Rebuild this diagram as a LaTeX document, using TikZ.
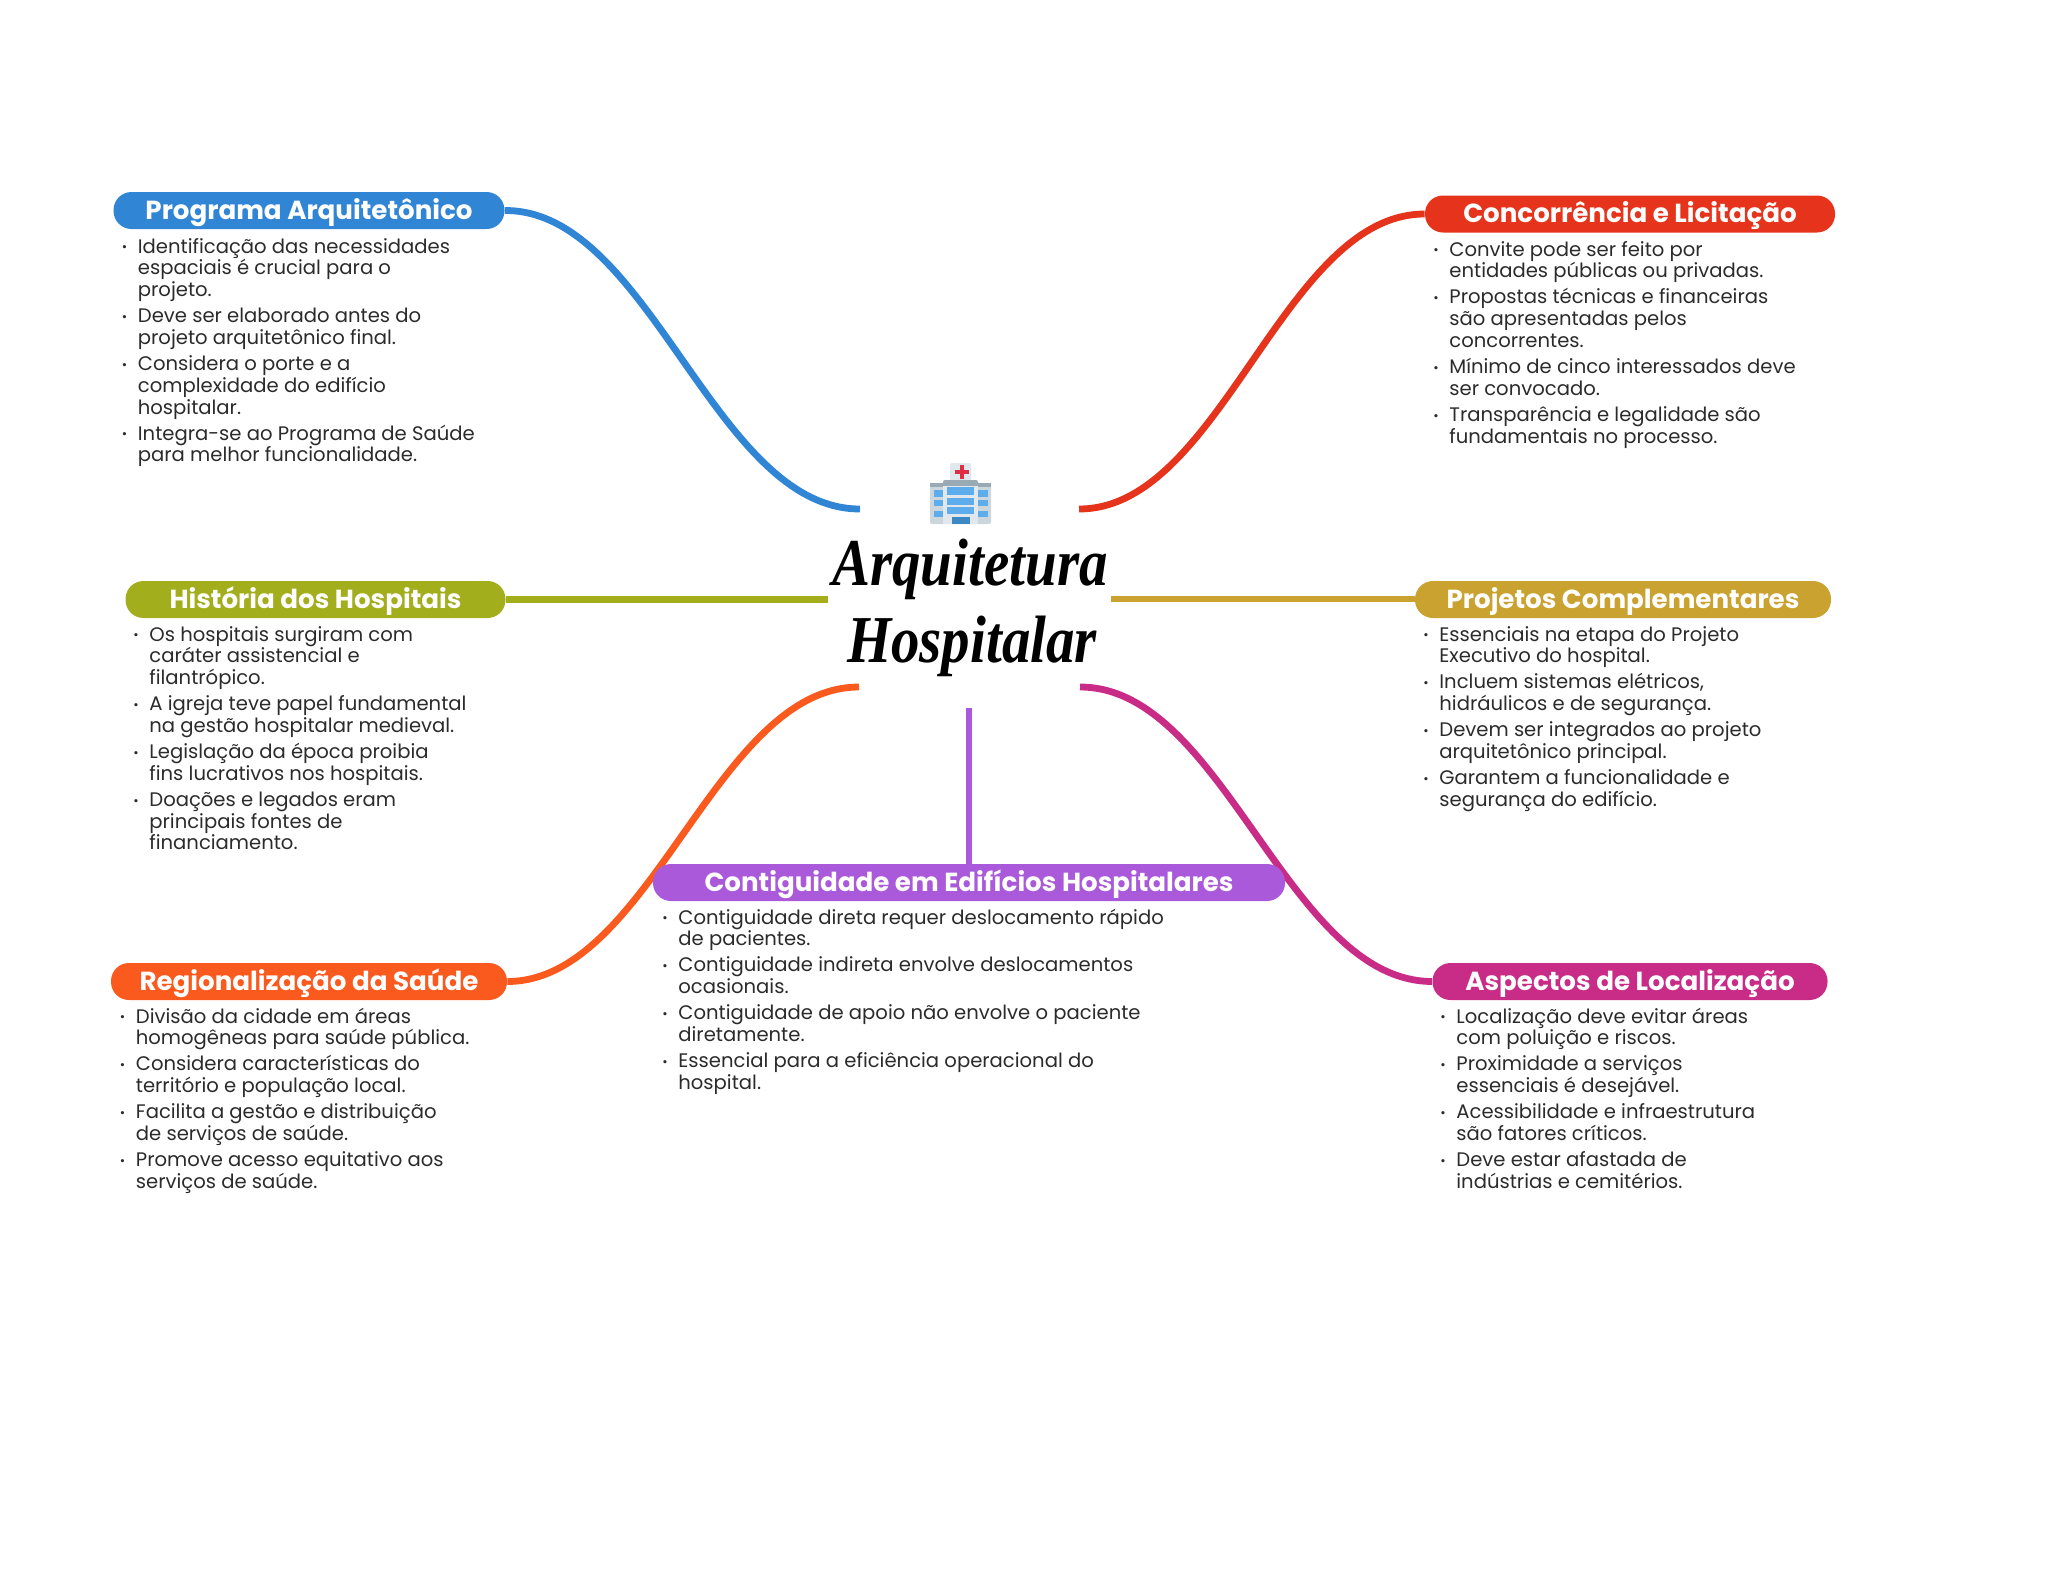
\documentclass[tikz,border=0pt]{standalone}
\usetikzlibrary{backgrounds}
\usepackage{fontspec}
\setmainfont{Poppins}
\newfontfamily\titlefont[FakeStretch=0.85]{Liberation Serif}
\definecolor{cblue}{HTML}{3185D5}
\definecolor{cred}{HTML}{E5341B}
\definecolor{colive}{HTML}{A3AE1C}
\definecolor{cgold}{HTML}{C9A22F}
\definecolor{cpurple}{HTML}{A959D9}
\definecolor{corange}{HTML}{FA5A1E}
\definecolor{cmagenta}{HTML}{C92C87}
\definecolor{ctext}{HTML}{2B2B2B}
\definecolor{icA}{HTML}{E1E8ED}
\definecolor{icB}{HTML}{CCD6DD}
\definecolor{icC}{HTML}{99AAB5}
\definecolor{icW}{HTML}{5DADEC}
\definecolor{icD}{HTML}{3B88C3}
\definecolor{icR}{HTML}{DD2E44}
\newcommand\bitem[1]{\par\hangindent=8pt\hangafter=1\noindent\makebox[8pt][l]{\raisebox{0.6pt}{\fontsize{6.5}{6.5}\selectfont •}}#1}
\newcommand\blist[1]{\parbox[t]{400pt}{\fontsize{9.8}{10.9}\selectfont\parskip=2.1pt #1}}
\tikzset{
  pill/.style={fill=#1,rounded corners=9pt,inner sep=0pt,minimum height=18.5pt,text height=12.3pt,text depth=3.5pt,text=white,font=\fontsize{13.07}{14}\selectfont\bfseries},
  body/.style={inner sep=0pt,anchor=base west,text=ctext},
  link/.style={draw=#1,line width=3.4pt},
  hubtitle/.style={inner sep=0pt,font=\titlefont\fontsize{33.5}{38}\selectfont\bfseries\itshape,text=black}
}
\begin{document}
\begin{tikzpicture}[x=0.5pt,y=-0.5pt]
\useasboundingbox (0,0) rectangle (2048,1569);
% free ends at the hub
\coordinate (hTL) at (860,509);
\coordinate (hTR) at (1079,509);
\coordinate (hL) at (828,599);
\coordinate (hR) at (1111,599);
\coordinate (hBL) at (859,687);
\coordinate (hBR) at (1080,687);
\coordinate (hB) at (969,708);
% pills
\node[pill=cblue,minimum width=195.5pt] (prog) at (309,210.5) {Programa Arquitetônico};
\node[pill=cred,minimum width=205pt] (conc) at (1630,214) {Concorrência e Licitação};
\node[pill=colive,minimum width=190pt] (hist) at (315.5,599.5) {História dos Hospitais};
\node[pill=cgold,minimum width=208pt] (proj) at (1623,599.5) {Projetos Complementares};
\node[pill=cpurple,minimum width=316pt] (cont) at (969,882.5) {Contiguidade em Edifícios Hospitalares};
\node[pill=corange,minimum width=198pt] (regi) at (309,981.5) {Regionalização da Saúde};
\node[pill=cmagenta,minimum width=197.5pt] (aspe) at (1630,981.5) {Aspectos de Localização};
% connectors
\begin{scope}[on background layer]
\draw[link=cblue] (prog.east) .. controls (650,210) and (714,509) .. (hTL);
\draw[link=cred] (conc.west) .. controls (1283,214) and (1221,509) .. (hTR);
\draw[link=colive] (hist.east) -- (hist.east -| hL);
\draw[link=cgold] (hR) -- (hR -| proj.west);
\draw[link=corange] (regi.east) .. controls (651,981) and (715,687) .. (hBL);
\draw[link=cmagenta] (aspe.west) .. controls (1287,981) and (1224,687) .. (hBR);
\draw[link=cpurple] (hB) -- (hB |- cont.north);
\end{scope}
% body lists
\node[body] (tprog) at (121.5,253) {\blist{\bitem{Identificação das necessidades\\espaciais é crucial para o\\projeto.}\bitem{Deve ser elaborado antes do\\projeto arquitetônico final.}\bitem{Considera o porte e a\\complexidade do edifício\\hospitalar.}\bitem{Integra-se ao Programa de Saúde\\para melhor funcionalidade.}}};
\node[body] (tconc) at (1433,256) {\blist{\bitem{Convite pode ser feito por\\entidades públicas ou privadas.}\bitem{Propostas técnicas e financeiras\\são apresentadas pelos\\concorrentes.}\bitem{Mínimo de cinco interessados deve\\ser convocado.}\bitem{Transparência e legalidade são\\fundamentais no processo.}}};
\node[body] (thist) at (133,641) {\blist{\bitem{Os hospitais surgiram com\\caráter assistencial e\\filantrópico.}\bitem{A igreja teve papel fundamental\\na gestão hospitalar medieval.}\bitem{Legislação da época proibia\\fins lucrativos nos hospitais.}\bitem{Doações e legados eram\\principais fontes de\\financiamento.}}};
\node[body] (tproj) at (1423,641) {\blist{\bitem{Essenciais na etapa do Projeto\\Executivo do hospital.}\bitem{Incluem sistemas elétricos,\\hidráulicos e de segurança.}\bitem{Devem ser integrados ao projeto\\arquitetônico principal.}\bitem{Garantem a funcionalidade e\\segurança do edifício.}}};
\node[body] (tcont) at (662,924) {\blist{\bitem{Contiguidade direta requer deslocamento rápido\\de pacientes.}\bitem{Contiguidade indireta envolve deslocamentos\\ocasionais.}\bitem{Contiguidade de apoio não envolve o paciente\\diretamente.}\bitem{Essencial para a eficiência operacional do\\hospital.}}};
\node[body] (tregi) at (119.5,1023) {\blist{\bitem{Divisão da cidade em áreas\\homogêneas para saúde pública.}\bitem{Considera características do\\território e população local.}\bitem{Facilita a gestão e distribuição\\de serviços de saúde.}\bitem{Promove acesso equitativo aos\\serviços de saúde.}}};
\node[body] (taspe) at (1440,1023) {\blist{\bitem{Localização deve evitar áreas\\com poluição e riscos.}\bitem{Proximidade a serviços\\essenciais é desejável.}\bitem{Acessibilidade e infraestrutura\\são fatores críticos.}\bitem{Deve estar afastada de\\indústrias e cemitérios.}}};
% title
\node[hubtitle,anchor=base] (t1) at (970,585) {Arquitetura};
\node[hubtitle,anchor=base] (t2) at (972,662) {Hospitalar};
% hospital icon
\fill[icA,rounded corners=1pt] (950,463) rectangle (971,484);
\fill[icR] (959.5,465) rectangle (963.5,479);
\fill[icR] (954.5,470) rectangle (968.5,474);
\fill[icC,rounded corners=1pt] (943,480) rectangle (978,486);
\fill[icB,rounded corners=1pt] (930,483) rectangle (991,524);
\fill[icC] (930,483) rectangle (991,487);
\fill[icA] (943,486) rectangle (978,524);
\foreach \ya/\yb in {487/495,498/505,507/514}{\fill[icW] (947,\ya) rectangle (974,\yb);}
\foreach \ya/\yb in {490/497,500/506,511/517}{\fill[icW] (934,\ya) rectangle (943,\yb);\fill[icW] (978,\ya) rectangle (988,\yb);}
\fill[icD] (952,517) rectangle (970,524);
\end{tikzpicture}
\end{document}
